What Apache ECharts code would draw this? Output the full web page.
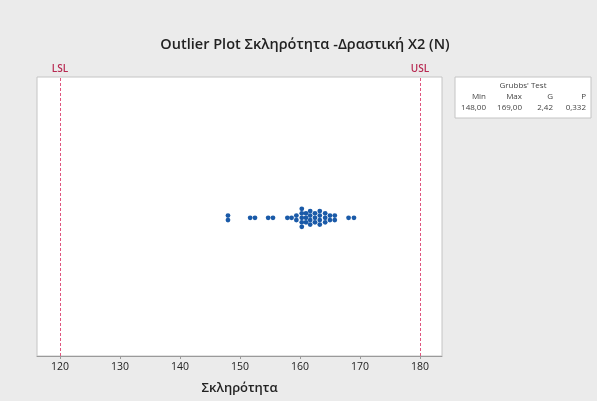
<!DOCTYPE html>
<html>
<head>
<meta charset="utf-8">
<script src="https://cdn.jsdelivr.net/npm/echarts@6/dist/echarts.min.js"></script>
<style>
  html, body { margin: 0; padding: 0; background: #ebebeb; }
  #chart { width: 597px; height: 401px; }
</style>
</head>
<body>
<div id="chart"></div>
<script>
// Dot plot bins: bin centre (hardness) and number of stacked dots
const binValues = [148.0, 151.7, 152.5, 154.7, 155.5, 157.9, 158.6, 159.4, 160.3, 161.0, 161.7, 162.5, 163.3, 164.2, 165.0, 165.8, 168.1, 169.0];
const binCounts = [2, 1, 1, 1, 1, 1, 1, 2, 5, 3, 4, 3, 4, 3, 2, 2, 1, 1];

// Specification limits
const specNames = ['LSL', 'USL'];
const specValues = [120, 180];

// Axis tick labels
const xTicks = [120, 130, 140, 150, 160, 170, 180];

// Grubbs' test summary
const grubbsHeaders = ['Min', 'Max', 'G', 'P'];
const grubbsValues = ['148,00', '169,00', '2,42', '0,332'];

const FONT = '"Open Sans", "Noto Sans", sans-serif';

// Stack the dots of every bin symmetrically about the centre line
const dots = [];
binValues.forEach((v, b) => {
  const n = binCounts[b];
  for (let i = 0; i < n; i++) dots.push([v, i - (n - 1) / 2]);
});

const colRight = [486, 522, 553, 586];
const grubbsText = [];
grubbsHeaders.forEach((h, i) => {
  grubbsText.push({
    type: 'text', x: colRight[i], y: 97,
    style: { text: h, align: 'right', verticalAlign: 'middle', font: '8px ' + FONT, fill: '#444' }
  });
  grubbsText.push({
    type: 'text', x: colRight[i], y: 108,
    style: { text: grubbsValues[i], align: 'right', verticalAlign: 'middle', font: '8px ' + FONT, fill: '#444' }
  });
});

const chart = echarts.init(document.getElementById('chart'), null, { renderer: 'canvas' });
chart.setOption({
  backgroundColor: '#ebebeb',
  animation: false,
  title: {
    text: 'Outlier Plot Σκληρότητα -Δραστική X2 (N)',
    left: 300, top: 32, textAlign: 'center',
    textStyle: { fontFamily: FONT, fontSize: 14.5, fontWeight: 600, color: '#222' }
  },
  grid: {
    left: 37, top: 77, width: 405, height: 279,
    show: true, backgroundColor: '#ffffff', borderColor: '#c4c4c4', borderWidth: 1
  },
  xAxis: {
    type: 'value',
    min: 116.17, max: 183.67,
    name: 'Σκληρότητα', nameLocation: 'middle', nameGap: 26,
    nameTextStyle: { fontFamily: FONT, fontSize: 13, fontWeight: 600, color: '#222' },
    axisLine: { show: true, onZero: false, lineStyle: { color: '#9a9a9a' } },
    axisTick: { show: true, length: 3, customValues: xTicks, lineStyle: { color: '#9a9a9a' } },
    axisLabel: { customValues: xTicks, fontFamily: FONT, fontSize: 10.5, color: '#222', margin: 6 },
    splitLine: { show: false }
  },
  yAxis: {
    type: 'value', min: -30.7, max: 31.3, show: false,
    splitLine: { show: false }
  },
  graphic: [
    {
      type: 'rect', shape: { x: 455, y: 77, width: 136, height: 41 },
      style: { fill: '#ffffff', stroke: '#c4c4c4', lineWidth: 1 }
    },
    {
      type: 'text', x: 523, y: 86,
      style: { text: "Grubbs' Test", align: 'center', verticalAlign: 'middle', font: '8px ' + FONT, fill: '#444' }
    }
  ].concat(grubbsText),
  series: [
    {
      type: 'scatter',
      data: dots,
      symbol: 'circle',
      symbolSize: 4.8,
      itemStyle: { color: '#1a5aa8', opacity: 1 },
      markLine: {
        silent: true,
        symbol: ['none', 'none'],
        lineStyle: { color: '#e0557f', type: [3, 2], width: 1 },
        label: {
          show: true, position: 'end', distance: 3,
          formatter: p => p.name,
          fontFamily: FONT, fontSize: 10, fontWeight: 600, color: '#b82a52'
        },
        data: specValues.map((v, i) => ({ name: specNames[i], xAxis: v }))
      }
    }
  ]
});
</script>
</body>
</html>
